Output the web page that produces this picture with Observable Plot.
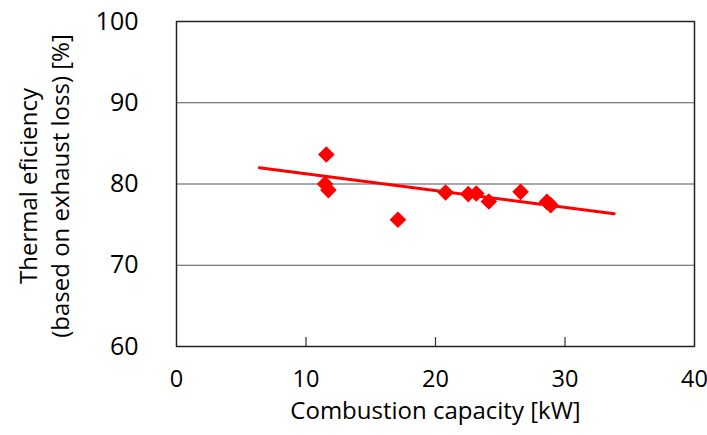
<!DOCTYPE html>
<html><head><meta charset="utf-8">
<script src="https://cdn.jsdelivr.net/npm/d3@7"></script>
<script src="https://cdn.jsdelivr.net/npm/@observablehq/plot@0.6"></script>
<style>body{margin:0;background:#fff;} svg{overflow:visible;}</style>
</head><body><div id="chart"></div>
<script>
const capacity   = [11.57, 11.47, 11.73, 17.1, 20.78, 22.53, 23.15, 24.12, 26.57, 28.6, 28.9];
const efficiency = [83.63, 80.0, 79.25, 75.6, 78.95, 78.76, 78.83, 77.85, 79.04, 77.8, 77.4];
const trendX = [6.4, 33.8];
const trendY = [82.0, 76.35];
const xTicks = [0, 10, 20, 30, 40];
const yTicks = [60, 70, 80, 90, 100];
const gridValues = [70, 80, 90];
const innerXTicks = [10, 20, 30];
const xLabel = "Combustion capacity [kW]";
const yLabelLines = ["Thermal eficiency", "(based on exhaust loss) [%]"];

const points = capacity.map((c, i) => ({x: c, y: efficiency[i]}));
const trend = trendX.map((c, i) => ({x: c, y: trendY[i]}));

const font = "'Open Sans', sans-serif";
const chart = Plot.plot({
  width: 707, height: 435,
  marginLeft: 176, marginRight: 13, marginTop: 21, marginBottom: 89,
  style: {fontFamily: font, background: "#fff", overflow: "visible"},
  x: {domain: [0, 40], ticks: xTicks},
  y: {domain: [60, 100], ticks: yTicks},
  marks: [
    Plot.ruleY(gridValues, {stroke: "#555", strokeWidth: 1.2}),
    Plot.ruleX(innerXTicks, {y1: 60, y2: 61.1, stroke: "#333", strokeWidth: 1.2}),
    Plot.frame({stroke: "#222", strokeWidth: 1.5}),
    Plot.axisX(xTicks, {tickSize: 0, tickPadding: 24, fontSize: 23.5, label: null, color: "#000"}),
    Plot.axisY(yTicks, {tickSize: 0, tickPadding: 38, fontSize: 25, label: null, color: "#000"}),
    Plot.line(trend, {x: "x", y: "y", stroke: "#ff0000", strokeWidth: 3}),
    Plot.dot(points, {x: "x", y: "y", symbol: "diamond2", r: 7.5, fill: "#ff0000", stroke: "none"}),
    Plot.text([xLabel], {text: d => d, frameAnchor: "bottom", dy: 65, fontSize: 24, fill: "#000", lineAnchor: "middle"}),
    Plot.text([yLabelLines.join("\n")], {text: d => d, frameAnchor: "left", textAnchor: "middle", dx: -134, dy: 2, rotate: -90, fontSize: 24, lineHeight: 1.33, fill: "#000", lineAnchor: "middle"})
  ]
});
document.getElementById("chart").appendChild(chart);
</script>
</body></html>
